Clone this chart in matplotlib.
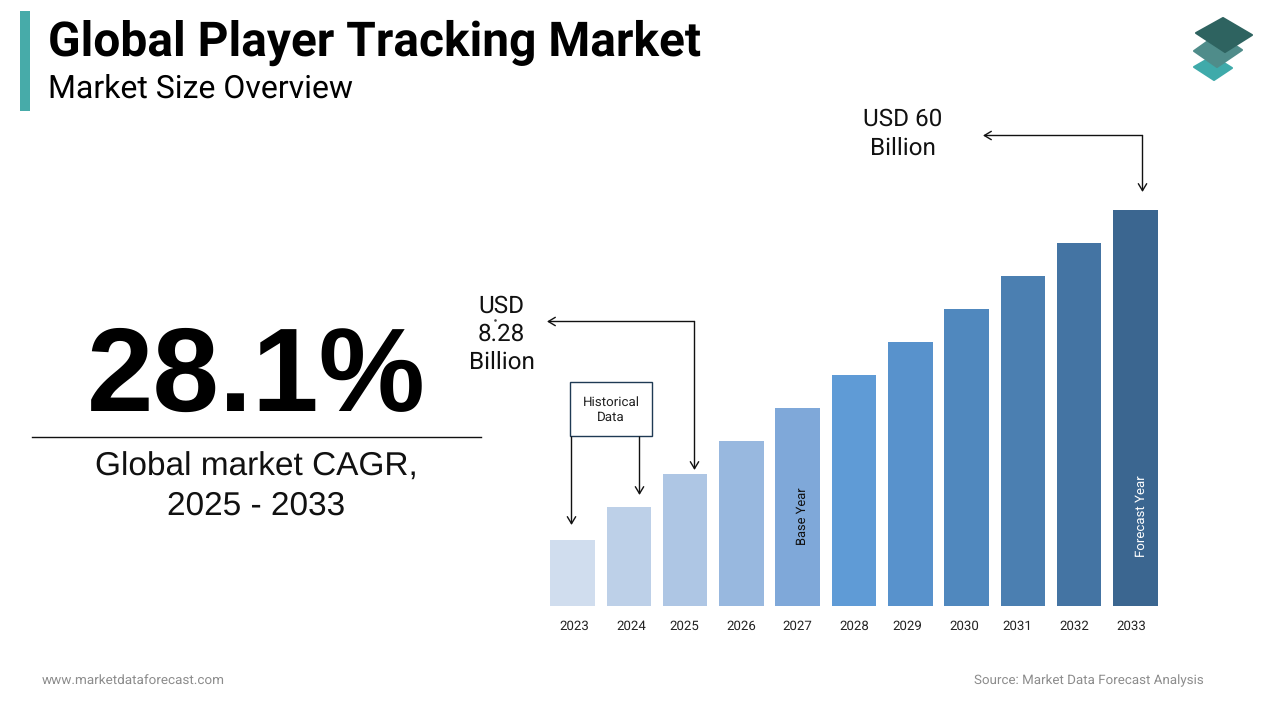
import matplotlib
matplotlib.use("Agg")
import matplotlib.pyplot as plt
from matplotlib.patches import Rectangle, Polygon

plt.rcParams['font.family'] = ['Roboto', 'DejaVu Sans']
plt.rcParams['text.hinting'] = 'none'

years = ['2023', '2024', '2025', '2026', '2027', '2028', '2029', '2030', '2031', '2032', '2033']
bar_heights = [2, 3, 4, 5, 6, 7, 8, 9, 10, 11, 12]
bar_colors = ['#D0DDEE', '#BDD0E8', '#AEC6E4', '#98B8DF', '#7FA8D9', '#5F9BD6',
              '#5892CC', '#5088BE', '#4B7FB1', '#4474A3', '#3B6690']
year_label_px = [574.5, 631, 684.5, 741, 797, 854, 907, 964, 1017, 1074, 1131]
title = 'Global Player Tracking Market'
subtitle = 'Market Size Overview'
cagr = '28.1%'
cagr_label = 'Global market CAGR,\n2025 - 2033'

W, H = 1280, 720
fig = plt.figure(figsize=(12.8, 7.2), dpi=100, facecolor='white')

# overlay in pixel coordinates for the slide furniture
bg = fig.add_axes([0, 0, 1, 1])
bg.set_xlim(0, W)
bg.set_ylim(H, 0)
bg.axis('off')

# bar chart
L, R, T, B = 544.35, 1163.65, 210, 606
ax = fig.add_axes([L / W, 1 - B / H, (R - L) / W, (B - T) / H], zorder=2)
ax.patch.set_alpha(0)
ax.bar(range(len(years)), bar_heights, width=0.79, color=bar_colors)
ax.set_xlim(-0.5, 10.5)
ax.set_ylim(0, 12)
ax.set_xticks([(p - 572.5) / 56.3 for p in year_label_px], years, fontsize=9.5, color='#222222')
ax.tick_params(axis='x', length=0, pad=10)
ax.set_yticks([])
for s in ax.spines.values():
    s.set_visible(False)
ax.text(4.09, 2.73, 'Base Year', rotation=90, ha='center', va='center', fontsize=9.3, color='#111111')
ax.text(10.1, 2.73, 'Forecast Year', rotation=90, ha='center', va='center', fontsize=9.5, color='white')

# header
bg.add_patch(Rectangle((20, 11), 10, 100, color='#47ABA9', lw=0))
bg.text(47.5, 42.5, title, fontsize=34.5, fontweight='bold', va='center', ha='left', color='#000000')
bg.text(48.5, 89, subtitle, fontsize=23, va='center', ha='left', color='#000000')

# logo
logo = dict(closed=True, lw=1.5, joinstyle='round')
bg.add_patch(Polygon([(1213, 56), (1232, 68), (1214, 80), (1194, 67)], fc='#3FAAAA', ec='#3FAAAA', **logo))
bg.add_patch(Polygon([(1218, 34), (1242, 50), (1217, 67), (1194, 51)], fc='#4F8C8A', ec='#4F8C8A', **logo))
bg.add_patch(Polygon([(1223, 18), (1252, 35), (1225, 52), (1196, 33)], fc='#2E6360', ec='#2E6360', **logo))

# CAGR block
bg.text(256.5, 380, cagr, fontsize=86, fontweight='bold', ha='center', va='center', color='#000000',
        family=['Liberation Sans', 'DejaVu Sans'])
bg.plot([32, 481], [436.5, 436.5], color='#111111', lw=1)
bg.text(256, 487, cagr_label, fontsize=24, ha='center', va='center', color='#111111', linespacing=1.35,
        family=['Liberation Sans', 'DejaVu Sans'])

# annotations
arrow = dict(arrowstyle='->,head_length=0.5,head_width=0.3', color='#111111', lw=1, shrinkA=0, shrinkB=0)
bg.text(501.5, 334, 'USD\n8.28\nBillion', fontsize=17.5, ha='center', va='center', color='#111111', linespacing=1.29)
bg.plot([495], [320], marker='s', ms=0.8, color='#444444')
bg.annotate('', xy=(547, 321.5), xytext=(694.5, 321.5), arrowprops=arrow)
bg.annotate('', xy=(694.5, 470), xytext=(694.5, 321.5), arrowprops=arrow)

bg.text(903, 133.5, 'USD 60\nBillion', fontsize=17.5, ha='center', va='center', color='#111111', linespacing=1.33)
bg.annotate('', xy=(983, 135.5), xytext=(1142.5, 135.5), arrowprops=arrow)
bg.annotate('', xy=(1142.5, 192), xytext=(1142.5, 135.5), arrowprops=arrow)

bg.add_patch(Rectangle((570, 382), 82, 54, fc='white', ec='#1F3A54', lw=1))
bg.text(611, 410, 'Historical\nData', fontsize=9.6, ha='center', va='center', color='#222222', linespacing=1.3)
bg.annotate('', xy=(571.5, 525), xytext=(571.5, 437), arrowprops=arrow)
bg.annotate('', xy=(639.5, 495), xytext=(639.5, 437), arrowprops=arrow)

# footer
bg.text(42, 681, 'www.marketdataforecast.com', fontsize=9.7, color='#8C8C8C', ha='left', va='center')
bg.text(1204, 681, 'Source: Market Data Forecast Analysis', fontsize=9.6, color='#8C8C8C', ha='right', va='center')

fig.savefig('out.png', dpi=100)
